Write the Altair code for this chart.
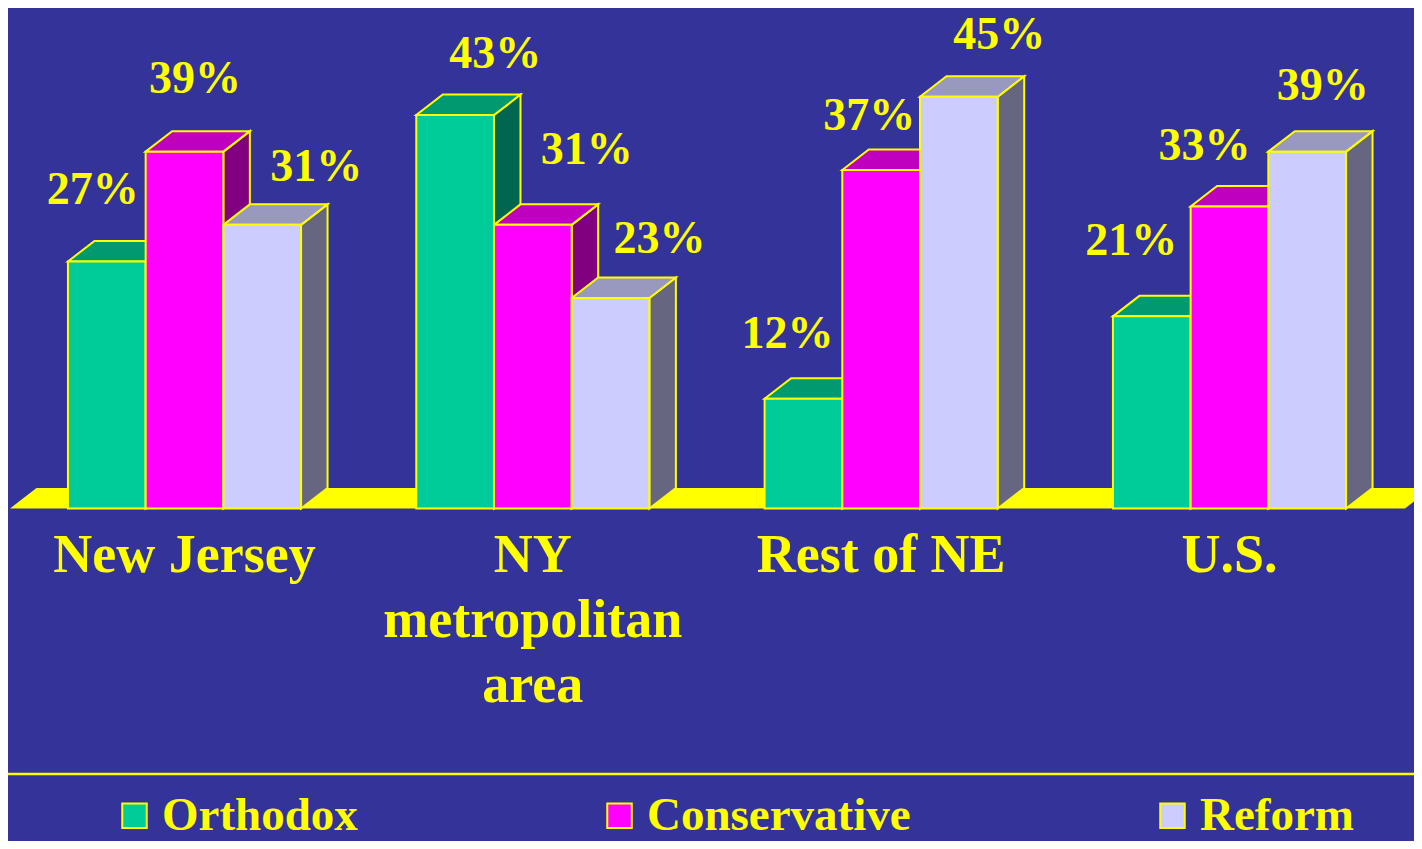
import altair as alt
import pandas as pd

# ---------------- data ----------------
REGIONS = ["New Jersey", "NY\nmetropolitan\narea", "Rest of NE", "U.S."]
SERIES = ["Orthodox", "Conservative", "Reform"]
ORTHODOX = [27, 43, 12, 21]
CONSERVATIVE = [39, 31, 37, 33]
REFORM = [31, 23, 45, 39]

# ---------------- style ----------------
BG = "#333399"
YELLOW = "#FFFF00"
FRONT = ["#00CC99", "#FF00FF", "#CCCCFF"]
TOP = ["#009970", "#BF00BF", "#9999BF"]
SIDE = ["#006650", "#800080", "#666680"]
FONT = "Liberation Serif"

# ---------------- layout (page pixels) ----------------
W, H = 1406, 833
PX_PER_PCT = 9.15
BASE_Y = 508.5          # floor front edge
GROUP0 = 184.5          # centre of first group
GROUP_STEP = 348.33
BAR_W = 77.7
DEPTH_X = 26.5
DEPTH_Y = 20.5
FLOOR_L, FLOOR_R = 10, 1405
CAT_BASELINE = 572
DIVIDER_Y = 774
# value-label placement (offset from front-top centre of each bar, px)
LABEL_DX = [[-14, 10.5, 54], [40, 54, 49], [-16, -12, 40.5], [-20.5, -25, 15.5]]
LABEL_DY = [[57, 59, 44], [47, 61, 45], [51, 40, 48], [61, 47, 52]]

k = PX_PER_PCT
dv = DEPTH_Y / k
y_max = (BASE_Y - 8) / k
y_min = -(8 + H - BASE_Y) / k
xs = alt.Scale(domain=[8, 8 + W])
ys = alt.Scale(domain=[y_min, y_max])

values = [ORTHODOX, CONSERVATIVE, REFORM]

front_rows, top_rows, side_rows, lab_rows, cat_rows = [], [], [], [], []
for gi, region in enumerate(REGIONS):
    gc = GROUP0 + gi * GROUP_STEP
    cat_rows.append({"x": gc, "y": (BASE_Y - CAT_BASELINE) / k, "t": region})
    for si, s in enumerate(SERIES):
        v = values[si][gi]
        x0 = gc - 1.5 * BAR_W + si * BAR_W
        x1 = x0 + BAR_W
        bid = f"{gi}-{si}"
        front_rows.append({"bid": bid, "series": s, "x0": x0, "x1": x1, "zero": 0, "v": v})
        for x, y, y2 in [(x0, v, v), (x0 + DEPTH_X, v + dv, v), (x1, v + dv, v),
                         (x1 + DEPTH_X, v + dv, v + dv)]:
            top_rows.append({"bid": bid, "x": x, "y": y, "y2": y2, "fill": TOP[si]})
        for x, y, y2 in [(x1, v, 0), (x1 + DEPTH_X, v + dv, dv)]:
            side_rows.append({"bid": bid, "x": x, "y": y, "y2": y2, "fill": SIDE[si]})
        lab_rows.append({"x": (x0 + x1) / 2 + LABEL_DX[gi][si],
                         "y": v + LABEL_DY[gi][si] / k, "t": f"{v}%"})

floor_rows = [
    {"x": FLOOR_L, "y": 0, "y2": 0},
    {"x": FLOOR_L + DEPTH_X, "y": dv, "y2": 0},
    {"x": FLOOR_R, "y": dv, "y2": 0},
    {"x": FLOOR_R + DEPTH_X, "y": dv, "y2": dv},
]

floor = alt.Chart(pd.DataFrame(floor_rows)).mark_area(color=YELLOW, clip=True).encode(
    x=alt.X("x:Q", scale=xs, axis=None),
    y=alt.Y("y:Q", scale=ys, axis=None),
    y2="y2:Q",
)

side = alt.Chart(pd.DataFrame(side_rows)).mark_area(stroke=YELLOW, strokeWidth=2, fillOpacity=1).encode(
    x=alt.X("x:Q", scale=xs, axis=None),
    y=alt.Y("y:Q", scale=ys, axis=None),
    y2="y2:Q",
    detail="bid:N",
    fill=alt.Fill("fill:N", scale=None),
)

top = alt.Chart(pd.DataFrame(top_rows)).mark_area(stroke=YELLOW, strokeWidth=2, fillOpacity=1).encode(
    x=alt.X("x:Q", scale=xs, axis=None),
    y=alt.Y("y:Q", scale=ys, axis=None),
    y2="y2:Q",
    detail="bid:N",
    fill=alt.Fill("fill:N", scale=None),
)

front = alt.Chart(pd.DataFrame(front_rows)).mark_rect(stroke=YELLOW, strokeWidth=2, opacity=1).encode(
    x=alt.X("x0:Q", scale=xs, axis=None),
    x2="x1:Q",
    y=alt.Y("zero:Q", scale=ys, axis=None),
    y2="v:Q",
    fill=alt.Fill(
        "series:N",
        scale=alt.Scale(domain=SERIES, range=FRONT),
        legend=alt.Legend(
            title=None,
            orient="none",
            legendX=103,
            legendY=784,
            direction="horizontal",
            symbolType="square",
            symbolSize=600,
            symbolStrokeColor=YELLOW,
            symbolStrokeWidth=2,
            symbolOpacity=1,
            labelFont=FONT,
            labelFontSize=47,
            labelFontWeight="bold",
            labelColor=YELLOW,
            labelOffset=4,
            labelLimit=0,
            columnPadding=238,
            padding=0,
        ),
    ),
)

labels = alt.Chart(pd.DataFrame(lab_rows)).mark_text(
    font=FONT, fontSize=46, fontWeight="bold", color=YELLOW, align="center", baseline="alphabetic"
).encode(
    x=alt.X("x:Q", scale=xs, axis=None),
    y=alt.Y("y:Q", scale=ys, axis=None),
    text="t:N",
)

cats = alt.Chart(pd.DataFrame(cat_rows)).mark_text(
    font=FONT, fontSize=54, fontWeight="bold", color=YELLOW, align="center",
    baseline="alphabetic", lineBreak="\n", lineHeight=65
).encode(
    x=alt.X("x:Q", scale=xs, axis=None),
    y=alt.Y("y:Q", scale=ys, axis=None),
    text="t:N",
)

divider = alt.Chart(pd.DataFrame({"a": [0]})).mark_rule(color=YELLOW, strokeWidth=2.5).encode(
    x=alt.value(0), x2=alt.value(W), y=alt.value(DIVIDER_Y - 8)
)

chart = alt.layer(floor, side, top, front, labels, cats, divider).properties(
    width=W, height=H, autosize=alt.AutoSizeParams(type="none")
).configure(background=BG, padding=0).configure_view(stroke=None)

chart.save("out.html", embed_options={"renderer": "svg", "actions": False})
